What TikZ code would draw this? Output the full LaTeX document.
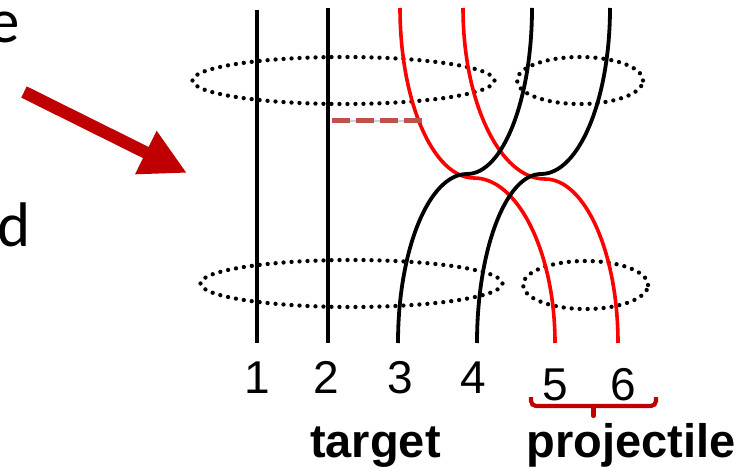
\documentclass[tikz,border=0pt]{standalone}
\usepackage{fontspec}
\setmainfont{Liberation Sans}
\newfontfamily\slidefont{Carlito}
\usepackage{tikz}
\usetikzlibrary{arrows.meta,positioning}
\definecolor{strandred}{RGB}{255,0,0}
\definecolor{darkred}{RGB}{192,0,0}
\definecolor{linkred}{RGB}{192,80,77}
\definecolor{selblue}{RGB}{190,210,235}

\begin{document}
\begin{tikzpicture}[
  x=1pt, y=-1pt,
  strand/.style={line width=3.8pt},
  redstrand/.style={strand, draw=strandred, line width=3.6pt},
  ring/.style={line width=4.3pt, line cap=round, dash pattern=on 0pt off 8pt},
  num/.style={anchor=base, inner sep=0pt, font=\fontsize{46}{50}\selectfont},
  group/.style={anchor=base, inner sep=0pt, font=\fontsize{47}{52}\selectfont\bfseries},
  side/.style={anchor=base east, inner sep=0pt, font=\fontsize{63}{70}\selectfont\slidefont}
]
\clip (0,0) rectangle (754,470);

% cut-off slide text on the left
\node[side] (txte) at (20,43) {e};
\node[side] (txtd) at (31,247) {d};

% big arrow
\coordinate (a0) at (24,92);
\coordinate (a1) at (187,173);
\draw[darkred, line width=12.5pt, -{Triangle[length=46pt,width=45pt]}] (a0) -- (a1);

% dotted rings
\draw[ring] (343.5,80.5) ellipse [x radius=151pt, y radius=23.5pt];
\draw[ring] (580,80.5) ellipse [x radius=63pt, y radius=23.5pt];
\draw[ring] (351.5,283.5) ellipse [x radius=151pt, y radius=23.5pt];
\draw[ring] (585.5,285) ellipse [x radius=62.5pt, y radius=24pt];

% straight target strands
\coordinate (s1t) at (257,10);  \coordinate (s1b) at (257,343);
\coordinate (s2t) at (328,8);   \coordinate (s2b) at (328,343);
\draw[strand] (s1t) -- (s1b);
\draw[strand] (s2t) -- (s2b);

% projectile strands (red)
\coordinate (r5t) at (400,8);  \coordinate (r5m) at (474,178); \coordinate (r5b) at (555,343);
\coordinate (r6t) at (463,8);  \coordinate (r6m) at (545,179); \coordinate (r6b) at (618,343);
\draw[redstrand] (r5t) .. controls +(0,93) and +(-41,0) .. (r5m)
                       .. controls +(44,0) and +(0,-90) .. (r5b);
\draw[redstrand] (r6t) .. controls +(0,94) and +(-45,0) .. (r6m)
                       .. controls +(40,0) and +(0,-90) .. (r6b);

% exchanged target strands
\coordinate (k3b) at (398,343); \coordinate (k3m) at (467,174); \coordinate (k3t) at (532,8);
\coordinate (k4b) at (477,343); \coordinate (k4m) at (541,174); \coordinate (k4t) at (610,8);
\draw[strand] (k3b) .. controls +(0,-93) and +(-38,0) .. (k3m)
                    .. controls +(36,0) and +(0,91) .. (k3t);
\draw[strand] (k4b) .. controls +(0,-93) and +(-35,0) .. (k4m)
                    .. controls +(38,0) and +(0,91) .. (k4t);

% link
\coordinate (l0) at (332,121);
\coordinate (l1) at (422,121);
\draw[selblue, line width=1.5pt] (l0) -- (l1);
\draw[linkred, line width=5pt, dash pattern=on 18pt off 6pt] (l0) -- (l1);

% labels
\node[num] (n1) at (257,393) {1};
\node[num] (n2) at (326.5,393) {2};
\node[num] (n3) at (400,393) {3};
\node[num] (n4) at (473.5,393) {4};
\node[num] (n5) at (555,400) {5};
\node[num] (n6) at (623.5,400) {6};

% bracket under 5 and 6
\coordinate (b0) at (531,397);
\coordinate (b1) at (656,397);
\coordinate (bm) at (593.5,406);
\coordinate (bt) at (593.5,416);
\draw[darkred, line width=4.2pt, rounded corners=5pt] (b0) -- ++(0,9) -- ++(125,0) -- (b1);
\draw[darkred, line width=4.2pt, line cap=round] (bm) -- (bt);

\node[group] (target) at (375.5,457) {target};
\node[group] (proj) at (631,457) {projectile};
\end{tikzpicture}
\end{document}
